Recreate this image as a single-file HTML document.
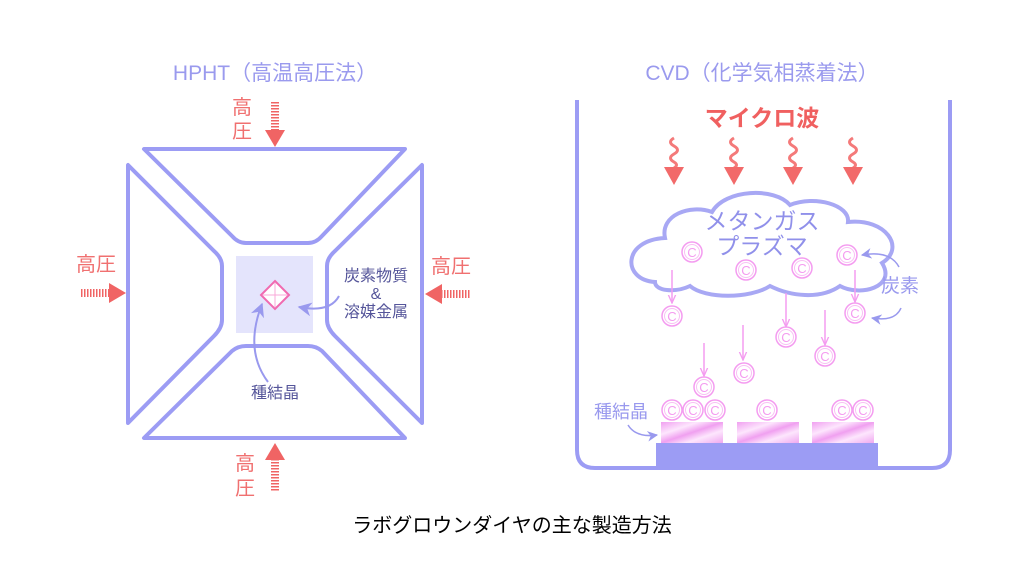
<!DOCTYPE html>
<html><head><meta charset="utf-8">
<style>
html,body{margin:0;padding:0;background:#fff;}
svg{display:block;}
text{font-family:"Liberation Sans","Noto Sans CJK JP",sans-serif;}
</style></head><body>
<svg width="1024" height="576" viewBox="0 0 1024 576" xmlns="http://www.w3.org/2000/svg">
<defs>
<pattern id="hatch" width="3" height="3" patternUnits="userSpaceOnUse"><rect width="3" height="1.5" fill="#f06464"/></pattern>
<pattern id="hatchv" width="3" height="3" patternUnits="userSpaceOnUse"><rect width="1.5" height="3" fill="#f06464"/></pattern>
<linearGradient id="pk" x1="0" y1="0" x2="1" y2="1">
<stop offset="0" stop-color="#f0a0f0"/><stop offset="0.3" stop-color="#fde6fd"/><stop offset="0.5" stop-color="#f0a0f0"/><stop offset="0.7" stop-color="#fde6fd"/><stop offset="1" stop-color="#f0a8f0"/>
</linearGradient>
<marker id="ab" viewBox="0 0 10 10" refX="9" refY="5" markerWidth="7" markerHeight="7" orient="auto"><path d="M0,0 L10,5 L0,10 L3,5Z" fill="#9999ee"/></marker>
<marker id="ap" viewBox="0 0 10 10" refX="9" refY="5" markerWidth="6" markerHeight="6" orient="auto"><path d="M0,1 L9,5 L0,9" fill="none" stroke="#f49cf0" stroke-width="1.5"/></marker>
</defs>

<!-- HPHT -->
<text x="275" y="80" font-size="21" fill="#9a9aee" text-anchor="middle">HPHT（高温高圧法）</text>
<g fill="none" stroke="#9c9cf4" stroke-width="4" stroke-linejoin="round">
<path d="M144,149 L405,149 L322,236 Q316,243 308,243 L246,243 Q238,243 232,236 Z"/>
<path d="M144,438 L405,438 L322,351 Q316,346 308,346 L246,346 Q238,346 232,351 Z"/>
<path d="M128,165 L128,423 L214,336 Q222,328 222,320 L222,266 Q222,258 214,251 Z"/>
<path d="M422,165 L422,423 L335,336 Q327,328 327,320 L327,266 Q327,258 335,251 Z"/>
</g>
<rect x="236" y="256" width="77" height="77" fill="#e4e4fc"/>
<path d="M275,281 L289,295 L275,309 L261,295Z" fill="#fff" stroke="#f06ab0" stroke-width="2"/>
<path d="M275,283 L275,307 M263,295 L287,295" stroke="#f8a8d8" stroke-width="1"/>
<path d="M268,382 Q244,350 262,304" fill="none" stroke="#9999ee" stroke-width="2" marker-end="url(#ab)"/>
<path d="M339,296 Q330,313 299,307" fill="none" stroke="#9999ee" stroke-width="2" marker-end="url(#ab)"/>
<text x="376" y="281" font-size="16" fill="#55559a" text-anchor="middle">炭素物質</text>
<text x="376" y="299" font-size="16" fill="#55559a" text-anchor="middle">&amp;</text>
<text x="376" y="317" font-size="16" fill="#55559a" text-anchor="middle">溶媒金属</text>
<text x="275" y="398" font-size="16" fill="#55559a" text-anchor="middle">種結晶</text>

<g fill="#f07070" font-size="20" text-anchor="middle">
<text x="242" y="114">高</text><text x="242" y="138">圧</text>
<text x="245" y="470">高</text><text x="245" y="495">圧</text>
<text x="96" y="271">高圧</text>
<text x="451" y="273">高圧</text>
</g>
<rect x="271" y="101" width="8" height="30" fill="url(#hatch)"/>
<path d="M265,130 L285,130 L275,147Z" fill="#f06464"/>
<rect x="271" y="459" width="8" height="32" fill="url(#hatch)"/>
<path d="M265,460 L285,460 L275,443Z" fill="#f06464"/>
<rect x="80" y="289" width="30" height="8" fill="url(#hatchv)"/>
<path d="M109,283 L109,303 L126,293Z" fill="#f06464"/>
<rect x="441" y="290" width="30" height="8" fill="url(#hatchv)"/>
<path d="M442,284 L442,304 L425,294Z" fill="#f06464"/>

<!-- CVD -->
<text x="762" y="80" font-size="21" fill="#9a9aee" text-anchor="middle">CVD（化学気相蒸着法）</text>
<path d="M577,100 L577,450 Q577,468 595,468 L932,468 Q950,468 950,450 L950,100" fill="none" stroke="#9c9cf4" stroke-width="4"/>
<text x="762" y="126" font-size="23" fill="#f06060" text-anchor="middle" font-weight="bold">マイクロ波</text>
<g fill="none" stroke="#f47a7a" stroke-width="3">
<path d="M674,138 q-7,4 0,8 q7,4 0,8 q-7,4 0,8 q5,3 0,6"/>
<path d="M734,138 q-7,4 0,8 q7,4 0,8 q-7,4 0,8 q5,3 0,6"/>
<path d="M793,138 q-7,4 0,8 q7,4 0,8 q-7,4 0,8 q5,3 0,6"/>
<path d="M853,138 q-7,4 0,8 q7,4 0,8 q-7,4 0,8 q5,3 0,6"/>
</g>
<g fill="#f26a6a">
<path d="M664,167 L684,167 L674,185Z"/><path d="M724,167 L744,167 L734,185Z"/>
<path d="M783,167 L803,167 L793,185Z"/><path d="M843,167 L863,167 L853,185Z"/>
</g>
<path d="M655,282 C622,280 622,240 665,238 C660,215 690,204 712,212 C725,189 775,187 790,205 C815,195 850,205 848,222 C886,218 906,248 882,263 C897,287 860,297 840,286 C820,300 790,296 770,286 C750,299 705,299 690,286 C675,293 655,291 655,282 Z" fill="#fff" stroke="#a8a8f4" stroke-width="4"/>
<text x="762" y="229" font-size="23" fill="#9090ea" text-anchor="middle">メタンガス</text>
<text x="762" y="254" font-size="23" fill="#9090ea" text-anchor="middle">プラズマ</text>

<g stroke="#f49cf0" stroke-width="1.5" marker-end="url(#ap)">
<line x1="672" y1="270" x2="672" y2="303"/><line x1="786" y1="293" x2="786" y2="327"/>
<line x1="855" y1="270" x2="855" y2="302"/><line x1="825" y1="310" x2="825" y2="345"/>
<line x1="743" y1="325" x2="743" y2="360"/><line x1="704" y1="343" x2="704" y2="376"/>
</g>
<g id="cs" fill="#fff" stroke="#f49cf0" stroke-width="1.5">
<circle cx="692" cy="252" r="10"/><circle cx="746" cy="270" r="10"/><circle cx="802" cy="268" r="10"/><circle cx="847" cy="255" r="10"/>
<circle cx="672" cy="316" r="10"/><circle cx="855" cy="313" r="10"/><circle cx="786" cy="337" r="10"/><circle cx="825" cy="356" r="10"/>
<circle cx="744" cy="373" r="10"/><circle cx="704" cy="387" r="10"/>
<circle cx="672" cy="410" r="10"/><circle cx="693" cy="410" r="10"/><circle cx="715" cy="410" r="10"/><circle cx="767" cy="410" r="10"/>
<circle cx="842" cy="410" r="10"/><circle cx="863" cy="410" r="10"/>
</g>
<g fill="none" stroke="#f8c0f4" stroke-width="1">
<circle cx="692" cy="252" r="7.5"/><circle cx="746" cy="270" r="7.5"/><circle cx="802" cy="268" r="7.5"/><circle cx="847" cy="255" r="7.5"/>
<circle cx="672" cy="316" r="7.5"/><circle cx="855" cy="313" r="7.5"/><circle cx="786" cy="337" r="7.5"/><circle cx="825" cy="356" r="7.5"/>
<circle cx="744" cy="373" r="7.5"/><circle cx="704" cy="387" r="7.5"/>
<circle cx="672" cy="410" r="7.5"/><circle cx="693" cy="410" r="7.5"/><circle cx="715" cy="410" r="7.5"/><circle cx="767" cy="410" r="7.5"/>
<circle cx="842" cy="410" r="7.5"/><circle cx="863" cy="410" r="7.5"/>
</g>
<g fill="#f49cf0" font-size="13" text-anchor="middle">
<text x="692" y="257">C</text><text x="746" y="275">C</text><text x="802" y="273">C</text><text x="847" y="260">C</text>
<text x="672" y="321">C</text><text x="855" y="318">C</text><text x="786" y="342">C</text><text x="825" y="361">C</text>
<text x="744" y="378">C</text><text x="704" y="392">C</text>
<text x="672" y="415">C</text><text x="693" y="415">C</text><text x="715" y="415">C</text><text x="767" y="415">C</text>
<text x="842" y="415">C</text><text x="863" y="415">C</text>
</g>
<rect x="661" y="422" width="62" height="21" fill="url(#pk)"/>
<rect x="737" y="422" width="62" height="21" fill="url(#pk)"/>
<rect x="812" y="422" width="62" height="21" fill="url(#pk)"/>
<rect x="656" y="443" width="222" height="25" fill="#9c9cf4"/>
<text x="900" y="292" font-size="19" fill="#9999ee" text-anchor="middle">炭素</text>
<path d="M899,267 Q890,250 862,255" fill="none" stroke="#9999ee" stroke-width="1.5" marker-end="url(#ab)"/>
<path d="M901,308 Q895,322 872,318" fill="none" stroke="#9999ee" stroke-width="1.5" marker-end="url(#ab)"/>
<text x="621" y="418" font-size="18" fill="#9999ee" text-anchor="middle">種結晶</text>
<path d="M628,425 Q636,438 657,435" fill="none" stroke="#9999ee" stroke-width="1.5" marker-end="url(#ab)"/>

<text x="512" y="532" font-size="20" fill="#000" text-anchor="middle">ラボグロウンダイヤの主な製造方法</text>
</svg>
</body></html>
